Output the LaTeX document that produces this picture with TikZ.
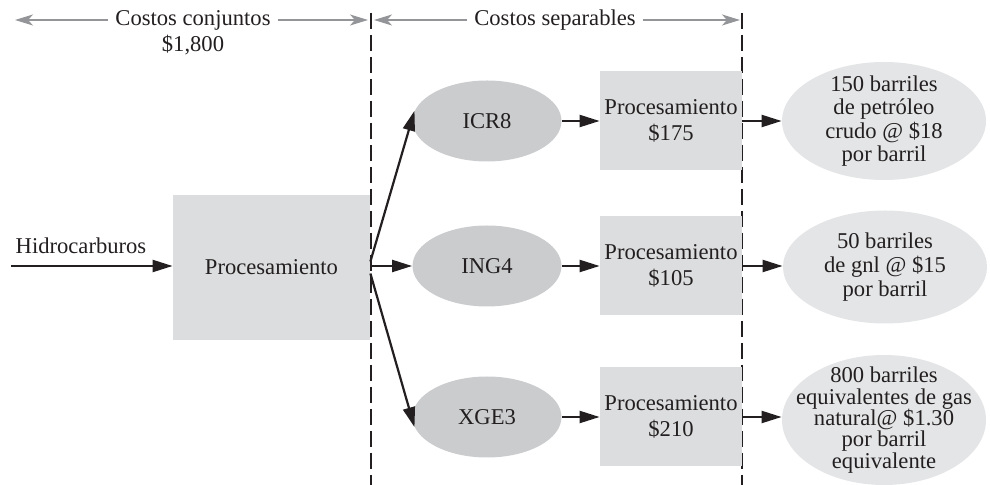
\documentclass[tikz,border=0pt]{standalone}
\usepackage{fontspec}
\setmainfont{Liberation Serif}
\usetikzlibrary{arrows.meta,shapes.geometric}
\definecolor{ink}{HTML}{231F20}
\definecolor{boxgray}{HTML}{DCDDDE}
\definecolor{midgray}{HTML}{CBCCCE}
\definecolor{palegray}{HTML}{E4E5E6}
\definecolor{rulegray}{HTML}{939598}

\begin{document}
\begin{tikzpicture}[x=0.5pt, y=-0.5pt, every node/.style={font=\fontsize{11.3}{11.8}\selectfont, text=ink}, procbox/.style={fill=boxgray, minimum width=71pt, minimum height=49.5pt, align=center, inner sep=0pt}, midell/.style={ellipse, fill=midgray, minimum width=74.5pt, minimum height=40.5pt, inner sep=0pt}, outell/.style={ellipse, fill=palegray, minimum width=102pt, inner sep=0pt}, arr/.style={-{Triangle[length=10pt,width=6pt]}, line width=1.1pt, ink}, spanarr/.style={-{Stealth[length=9pt,width=5.5pt,inset=2.5pt]}, line width=1pt, rulegray}, cutline/.style={dash pattern=on 8pt off 3pt, line width=1.2pt, ink}]
\useasboundingbox (0,0) rectangle (990,485);
% cost split lines
\draw[cutline] (371,13) -- (371,485);
\draw[cutline] (742,13) -- (742,485);
% top spans
\node (joint) at (193,20) {Costos conjuntos};
\node (jointcost) at (193,45) {\$1,800};
\coordinate (jointL) at (15,20);
\coordinate (jointR) at (368,20);
\draw[spanarr] (joint) -- (jointL);
\draw[spanarr] (joint) -- (jointR);
\node (sep) at (555,20) {Costos separables};
\coordinate (sepL) at (374,20);
\coordinate (sepR) at (740,20);
\draw[spanarr] (sep) -- (sepL);
\draw[spanarr] (sep) -- (sepR);
% joint process
\node (feed) at (81,246) {Hidrocarburos};
\node[procbox, minimum width=98.5pt, minimum height=72.5pt] (main) at (271.5,267.5) {Procesamiento};
\coordinate (feedin) at (11,266);
\draw[arr] (feedin) -- (feedin -| main.west);
% split-off products
\node[midell] (icr) at (487,121) {ICR8};
\node[midell] (ing) at (487,266) {ING4};
\node[midell] (xge) at (487,417) {XGE3};
\draw[arr] ([yshift=3pt]main.east) -- (icr.172);
\draw[arr] (main.east |- ing) -- (ing);
\draw[arr] ([yshift=-3pt]main.east) -- (xge.188);
% further processing
\node[procbox] (icrbox) at (671,121) {Procesamiento\\[1.5pt]\$175};
\node[procbox] (ingbox) at (671,266) {Procesamiento\\[1.5pt]\$105};
\node[procbox] (xgebox) at (671,417) {Procesamiento\\[1.5pt]\$210};
\draw[arr] (icr) -- (icrbox);
\draw[arr] (ing) -- (ingbox);
\draw[arr] (xge) -- (xgebox);
% final products
\node[outell, minimum height=59pt] (oil) at (884,121) {};
\node[outell, minimum height=56.5pt] (gnl) at (885,267) {};
\node[outell, minimum height=65pt] (gas) at (884,420) {};
\node[align=center] (oiltext) at (oil) {150 barriles\\de petróleo\\crudo @ \$18\\por barril};
\node[align=center] (gnltext) at (gnl) {50 barriles\\de gnl @ \$15\\por barril};
\node[align=center, font=\fontsize{11.3}{10.7}\selectfont] (gastext) at (gas) {800 barriles\\equivalentes de gas\\natural@ \$1.30\\por barril\\equivalente};
\draw[arr] (icrbox) -- (icrbox.east -| oil.west);
\draw[arr] (ingbox) -- (ingbox.east -| gnl.west);
\draw[arr] (xgebox) -- (xgebox.east -| gas.west);
\end{tikzpicture}
\end{document}
